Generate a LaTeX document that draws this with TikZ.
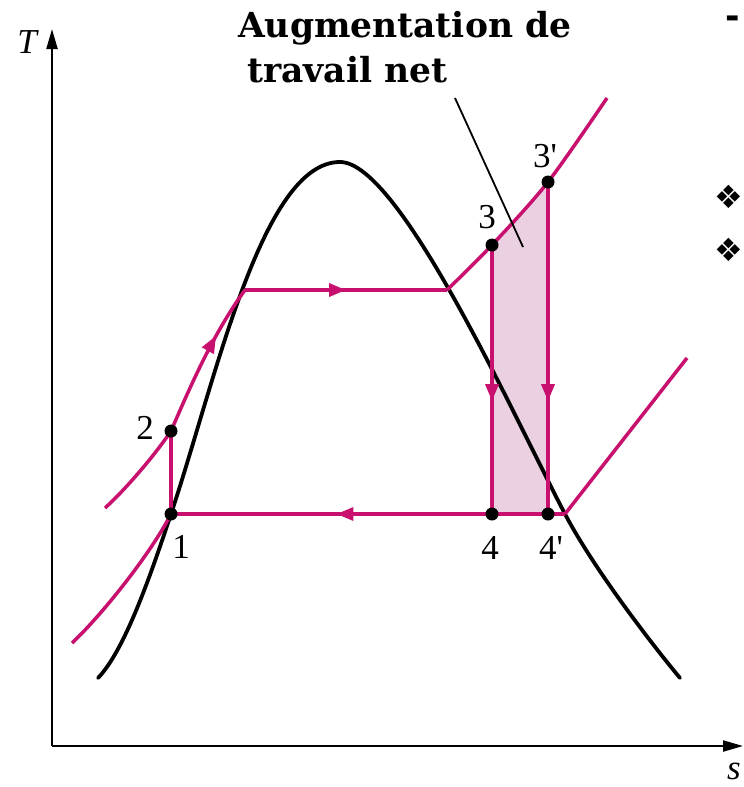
\documentclass[tikz,border=0pt]{standalone}
\usepackage{fontspec}
\setmainfont{Liberation Serif}
\newfontfamily\titlefont{DejaVu Serif}
\newfontfamily\symbfont{DejaVu Sans}
\usetikzlibrary{arrows.meta, decorations.markings}

\definecolor{cyclered}{RGB}{200,16,110}
\definecolor{workpink}{RGB}{234,208,225}

\tikzset{
  cycleline/.style={cyclered, line width=3.5pt},
  domeline/.style={black, line width=3.8pt, line cap=round},
  axisline/.style={black, line width=2.2pt, -{Triangle[length=20pt,width=11pt]}},
  statedot/.style={circle, fill=black, inner sep=0pt, minimum size=13pt},
  flowarrow/.style={postaction={decorate}, decoration={markings,
      mark=at position #1 with {\arrow{Triangle[length=17pt,width=13pt]}}}},
}

\begin{document}
\begin{tikzpicture}[x=1pt, y=-1pt, font=\fontsize{35}{40}\selectfont]
  \useasboundingbox (0,0) rectangle (744,787);
  \clip (0,0) rectangle (744,787);

  % axes
  \coordinate (origin) at (52,746);
  \coordinate (Ttop) at (52,29);
  \coordinate (sright) at (743,746);
  \draw[axisline] (origin) -- (Ttop);
  \draw[axisline] (origin) -- (sright);
  \node (Tlabel) at (27,42) {\itshape T};
  \node (slabel) at (734,771) {\itshape s};

  % state points
  \coordinate (p1) at (171,514);
  \coordinate (p2) at (171,431);
  \coordinate (p3) at (492,245);
  \coordinate (p3p) at (548,182);
  \coordinate (p4) at (492,514);
  \coordinate (p4p) at (548,514);
  \coordinate (satliq) at (245,290);
  \coordinate (satvap) at (447,290);
  \coordinate (lowvap) at (565,514);
  \coordinate (liqstart) at (105,508);
  \coordinate (liqlow) at (72,643);
  \coordinate (hiend) at (607,98);
  \coordinate (lowend) at (687,358);
  \coordinate (domeleft) at (98,678);
  \coordinate (domepeak) at (340,162);
  \coordinate (domeright) at (680,678);

  % extra net work
  \fill[workpink] (p4) -- (p3) -- (p3p) -- (p4p) -- cycle;

  % saturation dome
  \draw[domeline] (domeleft) .. controls (125,650) and (151,574) .. (p1)
    .. controls (216,379) and (262,162) .. (domepeak)
    .. controls (400,162) and (515,419) .. (lowvap)
    .. controls (595,571) and (655,648) .. (domeright);

  % cycle
  \draw[cycleline] (liqlow) .. controls (100,617) and (150,555) .. (p1);
  \draw[cycleline] (liqstart) .. controls (125,490) and (155,455) .. (p2);
  \draw[cycleline, flowarrow=0.66] (p2) .. controls (188,392) and (212,335) .. (satliq);
  \draw[cycleline] (p1) -- (p2);
  \draw[cycleline, flowarrow=0.5] (satliq) -- (satvap);
  \draw[cycleline] plot[smooth] coordinates {(satvap) (p3) (p3p) (hiend)};
  \draw[cycleline, flowarrow=0.58] (p3) -- (p4);
  \draw[cycleline, flowarrow=0.66] (p3p) -- (p4p);
  \draw[cycleline, flowarrow=0.58] (lowvap) -- (p1);
  \draw[cycleline] (lowvap) -- (lowend);

  \node[statedot] (n1) at (p1) {};
  \node[statedot] (n2) at (p2) {};
  \node[statedot] (n3) at (p3) {};
  \node[statedot] (n3p) at (p3p) {};
  \node[statedot] (n4) at (p4) {};
  \node[statedot] (n4p) at (p4p) {};

  \node (l1) at (181,547) {1};
  \node (l2) at (145,428) {2};
  \node (l3) at (487,217) {3};
  \node (l3p) at (545,156) {3\textquotesingle};
  \node (l4) at (490,548) {4};
  \node (l4p) at (551,548) {4\textquotesingle};

  % label for the added work
  \node[anchor=base west, inner sep=0pt] (title1) at (238,37)
    {\titlefont\bfseries\fontsize{34.5}{38}\selectfont Augmentation de};
  \node[anchor=base west, inner sep=0pt] (title2) at (247,82)
    {\titlefont\bfseries\fontsize{34.5}{38}\selectfont travail net};
  \coordinate (leadtop) at (455,98);
  \coordinate (leadend) at (523,247);
  \draw[black, line width=1.8pt] (leadtop) -- (leadend);

  % slide remnants at the edge
  \node (dash) at (733,22) {\symbfont\bfseries -};
  \node (bulletA) at (729,197) {\symbfont\fontsize{32}{36}\selectfont ❖};
  \node (bulletB) at (729,250) {\symbfont\fontsize{32}{36}\selectfont ❖};
\end{tikzpicture}
\end{document}
